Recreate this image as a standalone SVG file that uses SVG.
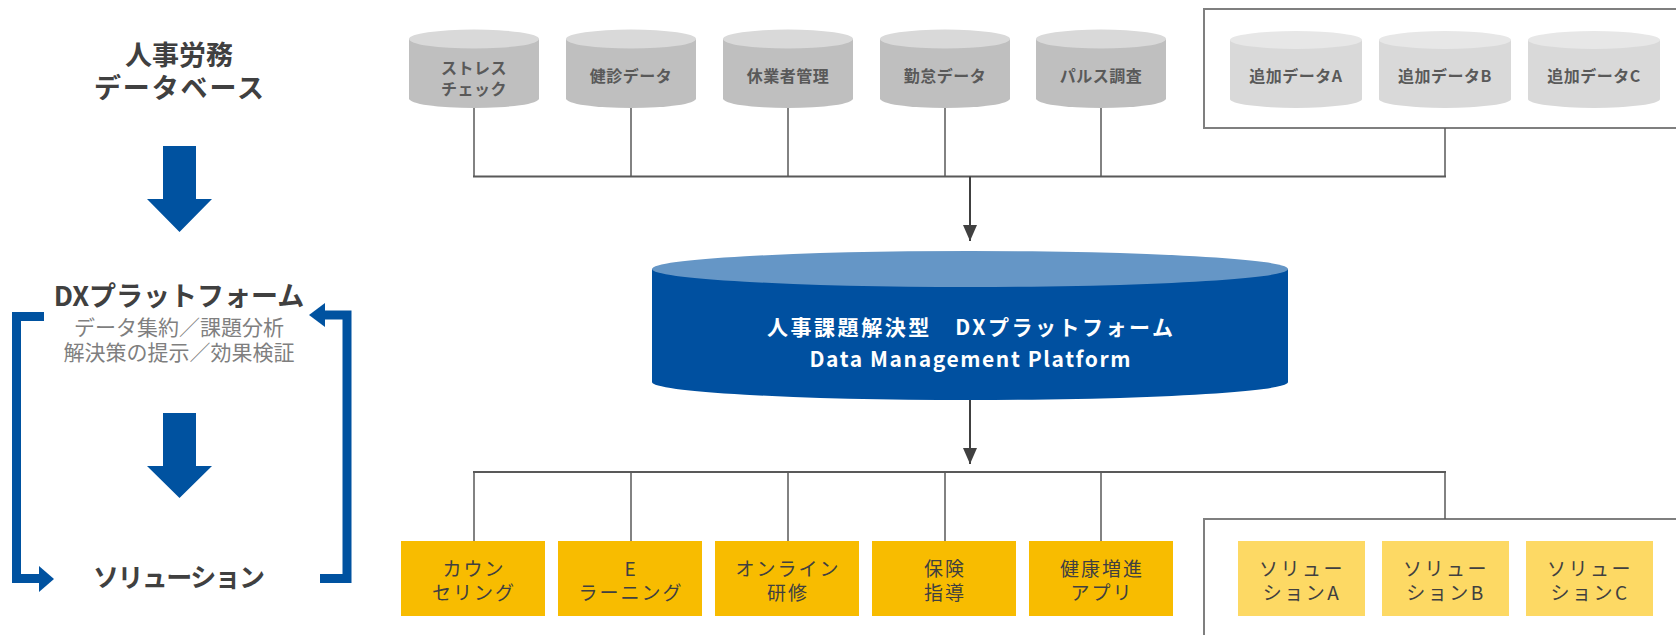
<svg xmlns="http://www.w3.org/2000/svg" width="1676" height="635" viewBox="0 0 1676 635">
  <style>
    text { font-family: "Noto Sans CJK JP", "Noto Sans", sans-serif; text-anchor: middle; }
    .head { font-size: 27px; font-weight: 700; fill: #404040; }
    .sub { font-size: 21px; font-weight: 400; fill: #7f7f7f; }
    .cyl-lbl { font-size: 16px; font-weight: 700; fill: #595959; letter-spacing: 0.5px; }
    .box-lbl { font-size: 19px; font-weight: 400; fill: #404040; letter-spacing: 2px; }
    .sol-lbl { font-size: 19px; font-weight: 400; fill: #404040; letter-spacing: 2.5px; }
    .main-lbl { font-size: 21px; font-weight: 700; fill: #ffffff; }
    .cyl-body { fill: #bfbfbf; }
    .cyl-top { fill: #d9d9d9; }
    .add-body { fill: #d9d9d9; }
    .add-top { fill: #e7e7e7; }
    .sol-a { fill: #f8bc00; }
    .sol-b { fill: #fdd964; }
    .frame { fill: none; stroke: #7f7f7f; stroke-width: 2; }
    .wire { fill: none; stroke: #595959; stroke-width: 1.5; }
    .bus { fill: none; stroke: #595959; stroke-width: 2; }
    .flow { fill: none; stroke: #404040; stroke-width: 2; }
    .blue { fill: #0052a0; }
    .loop { fill: none; stroke: #0052a0; stroke-width: 9; stroke-linejoin: miter; }
  </style>
  <defs>
    <marker id="tip" markerUnits="userSpaceOnUse" markerWidth="16" markerHeight="14" refX="16" refY="7" orient="auto">
      <path d="M0,0 L16,7 L0,14 Z" fill="#404040"/>
    </marker>
  </defs>

  <!-- Left column: process overview -->
  <g id="left-db">
    <text class="head" x="179" y="65">人事労務</text>
    <text class="head" x="179" y="98" textLength="170">データベース</text>
  </g>
  <g id="left-arrow-1">
    <polygon class="blue" points="163,146 196,146 196,199 212,199 179.5,232 147,199 163,199"/>
  </g>
  <g id="left-platform">
    <text class="head" x="179" y="306">DXプラットフォーム</text>
    <text class="sub" x="179" y="335">データ集約／課題分析</text>
    <text class="sub" x="179" y="360">解決策の提示／効果検証</text>
  </g>
  <g id="left-arrow-2">
    <polygon class="blue" points="163,413 196,413 196,466 212,466 179.5,498 147,466 163,466"/>
  </g>
  <g id="left-solution">
    <text class="head" x="179" y="587" style="font-size:26px" textLength="172">ソリューション</text>
  </g>
  <g id="left-loop">
    <path class="loop" d="M44,316.5 H16.5 V578.5 H41"/>
    <polygon class="blue" points="39,566 54,579 39,592"/>
    <path class="loop" d="M320,578.5 H347 V315 H323"/>
    <polygon class="blue" points="325,303 309,315 325,327"/>
  </g>

  <!-- Source data cylinders -->
  <g id="db-stress">
    <path class="cyl-body" d="M409,39 V98.5 A65,9.5 0 0 0 539,98.5 V39 Z"/>
    <ellipse class="cyl-top" cx="474" cy="39" rx="65" ry="9.5"/>
    <text class="cyl-lbl" x="474" y="74">ストレス</text>
    <text class="cyl-lbl" x="474" y="95">チェック</text>
  </g>
  <g id="db-checkup">
    <path class="cyl-body" d="M566,39 V98.5 A65,9.5 0 0 0 696,98.5 V39 Z"/>
    <ellipse class="cyl-top" cx="631" cy="39" rx="65" ry="9.5"/>
    <text class="cyl-lbl" x="631" y="82">健診データ</text>
  </g>
  <g id="db-leave">
    <path class="cyl-body" d="M723,39 V98.5 A65,9.5 0 0 0 853,98.5 V39 Z"/>
    <ellipse class="cyl-top" cx="788" cy="39" rx="65" ry="9.5"/>
    <text class="cyl-lbl" x="788" y="82">休業者管理</text>
  </g>
  <g id="db-attendance">
    <path class="cyl-body" d="M880,39 V98.5 A65,9.5 0 0 0 1010,98.5 V39 Z"/>
    <ellipse class="cyl-top" cx="945" cy="39" rx="65" ry="9.5"/>
    <text class="cyl-lbl" x="945" y="82">勤怠データ</text>
  </g>
  <g id="db-pulse">
    <path class="cyl-body" d="M1036,39 V98.5 A65,9.5 0 0 0 1166,98.5 V39 Z"/>
    <ellipse class="cyl-top" cx="1101" cy="39" rx="65" ry="9.5"/>
    <text class="cyl-lbl" x="1101" y="82">パルス調査</text>
  </g>

  <!-- Additional data group -->
  <g id="db-extra">
    <rect class="frame" x="1204" y="9" width="520" height="119"/>
    <g id="db-extra-a">
      <path class="add-body" d="M1230,40 V99 A66,9 0 0 0 1362,99 V40 Z"/>
      <ellipse class="add-top" cx="1296" cy="40" rx="66" ry="9"/>
      <text class="cyl-lbl" x="1296" y="82">追加データA</text>
    </g>
    <g id="db-extra-b">
      <path class="add-body" d="M1379,40 V99 A66,9 0 0 0 1511,99 V40 Z"/>
      <ellipse class="add-top" cx="1445" cy="40" rx="66" ry="9"/>
      <text class="cyl-lbl" x="1445" y="82">追加データB</text>
    </g>
    <g id="db-extra-c">
      <path class="add-body" d="M1528,40 V99 A66,9 0 0 0 1660,99 V40 Z"/>
      <ellipse class="add-top" cx="1594" cy="40" rx="66" ry="9"/>
      <text class="cyl-lbl" x="1594" y="82">追加データC</text>
    </g>
  </g>

  <!-- Central platform -->
  <g id="platform">
    <path fill="#0050a0" d="M652,269 V382 A318,18 0 0 0 1288,382 V269 Z"/>
    <ellipse fill="#6596c6" cx="970" cy="269" rx="318" ry="18"/>
    <text class="main-lbl" x="970" y="335" textLength="406">人事課題解決型　DXプラットフォーム</text>
    <text class="main-lbl" x="970" y="367" textLength="321">Data Management Platform</text>
  </g>

  <!-- Solution boxes -->
  <g id="sol-counseling">
    <rect class="sol-a" x="401" y="541" width="144" height="75"/>
    <text class="box-lbl" x="474" y="576">カウン</text>
    <text class="box-lbl" x="474" y="600">セリング</text>
  </g>
  <g id="sol-elearning">
    <rect class="sol-a" x="558" y="541" width="144" height="75"/>
    <text class="box-lbl" x="631" y="576">E</text>
    <text class="box-lbl" x="631" y="600">ラーニング</text>
  </g>
  <g id="sol-online">
    <rect class="sol-a" x="715" y="541" width="144" height="75"/>
    <text class="box-lbl" x="788" y="576">オンライン</text>
    <text class="box-lbl" x="788" y="600">研修</text>
  </g>
  <g id="sol-guidance">
    <rect class="sol-a" x="872" y="541" width="144" height="75"/>
    <text class="box-lbl" x="945" y="576">保険</text>
    <text class="box-lbl" x="945" y="600">指導</text>
  </g>
  <g id="sol-app">
    <rect class="sol-a" x="1029" y="541" width="144" height="75"/>
    <text class="box-lbl" x="1102" y="576">健康増進</text>
    <text class="box-lbl" x="1102" y="600">アプリ</text>
  </g>

  <!-- Additional solutions group -->
  <g id="sol-extra">
    <rect class="frame" x="1204" y="519" width="520" height="160"/>
    <g id="sol-extra-a">
      <rect class="sol-b" x="1238" y="541" width="127" height="75"/>
      <text class="sol-lbl" x="1302" y="576">ソリュー</text>
      <text class="sol-lbl" x="1302" y="600">ションA</text>
    </g>
    <g id="sol-extra-b">
      <rect class="sol-b" x="1382" y="541" width="127" height="75"/>
      <text class="sol-lbl" x="1446" y="576">ソリュー</text>
      <text class="sol-lbl" x="1446" y="600">ションB</text>
    </g>
    <g id="sol-extra-c">
      <rect class="sol-b" x="1526" y="541" width="127" height="75"/>
      <text class="sol-lbl" x="1590" y="576">ソリュー</text>
      <text class="sol-lbl" x="1590" y="600">ションC</text>
    </g>
  </g>

  <!-- Connectors -->
  <g id="connectors">
    <path class="wire" d="M474,108 V176.5 M631,108 V176.5 M788,108 V176.5 M945,108 V176.5 M1101,108 V176.5 M1445,128 V176.5"/>
    <path class="bus" d="M473,176.5 H1446"/>
    <line class="flow" x1="970" y1="176.5" x2="970" y2="241" marker-end="url(#tip)"/>
    <line class="flow" x1="970" y1="400" x2="970" y2="464" marker-end="url(#tip)"/>
    <path class="bus" d="M473,472 H1446"/>
    <path class="wire" d="M474,472 V541 M631,472 V541 M788,472 V541 M945,472 V541 M1101,472 V541 M1445,472 V519"/>
  </g>
</svg>
